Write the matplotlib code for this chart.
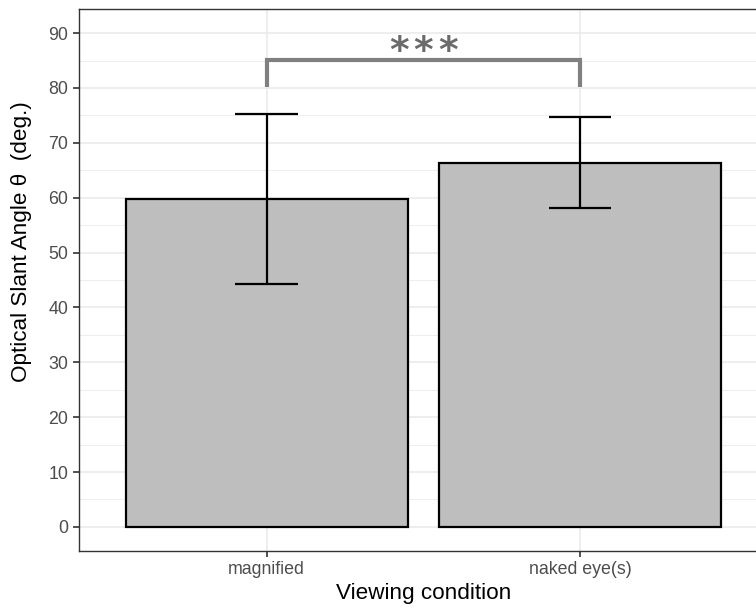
import matplotlib
matplotlib.use("Agg")
import matplotlib.pyplot as plt
import numpy as np

categories = ["magnified", "naked eye(s)"]
means = [59.8, 66.4]
err_low = [44.3, 58.1]
err_high = [75.2, 74.7]
sig_label = "*"
sig_count = 3
sig_y = 85.1
sig_drop = 80.2
yticks = [0, 10, 20, 30, 40, 50, 60, 70, 80, 90]

plt.rcParams["font.family"] = ["Liberation Sans", "DejaVu Sans"]

W, H = 756, 611
fig = plt.figure(figsize=(W / 100, H / 100), dpi=100)
left, right, top, bottom = 78.7, 768.0, 9.0, 551.0
ax = fig.add_axes([left / W, 1 - bottom / H, (right - left) / W, (bottom - top) / H])

x = np.arange(1, len(categories) + 1)
ax.set_xlim(0.4, 2.6)
ax.set_ylim(-4.4, 94.4)

# grid
for v in np.arange(5, 95, 10):
    ax.axhline(v, color="#ebebeb", lw=0.6, zorder=0)
for v in yticks:
    ax.axhline(v, color="#ebebeb", lw=1.2, zorder=0)
for xi in x:
    ax.axvline(xi, color="#ebebeb", lw=1.2, zorder=0)

ax.bar(x, means, width=0.9, color="#bebebe", edgecolor="black", linewidth=1.6, zorder=2)
ax.errorbar(x, means,
            yerr=[np.array(means) - np.array(err_low), np.array(err_high) - np.array(means)],
            fmt="none", ecolor="black", elinewidth=1.6, capsize=0, zorder=3)
for xi, lo, hi in zip(x, err_low, err_high):
    ax.plot([xi - 0.1, xi + 0.1], [lo, lo], color="black", lw=1.6, zorder=3, solid_capstyle="butt")
    ax.plot([xi - 0.1, xi + 0.1], [hi, hi], color="black", lw=1.6, zorder=3, solid_capstyle="butt")

ax.plot([x[0], x[0], x[1], x[1]], [sig_drop, sig_y, sig_y, sig_drop], color="#808080", lw=3,
        solid_joinstyle="miter", solid_capstyle="butt", zorder=4)
mid = (x[0] + x[1]) / 2
for k in range(sig_count):
    ax.text(mid + (k - 1) * 0.079, sig_y - 1.8, sig_label, ha="center", va="bottom", fontsize=27,
            color="#6b6b6b", fontweight="bold", family="DejaVu Sans", zorder=4)

ax.set_xticks(x)
ax.set_xticklabels(categories)
ax.set_yticks(yticks)
ax.tick_params(axis="both", colors="#333333", labelcolor="#4d4d4d", labelsize=12.8, length=4.5,
               width=1.2, pad=3)
for s in ax.spines.values():
    s.set_color("#333333")
    s.set_linewidth(1.0)
ax.set_xlabel("Viewing condition", fontsize=16.2, color="black", labelpad=3)
ax.set_ylabel("Optical Slant Angle \u03b8  (deg.)", fontsize=16.2, color="black")
ax.yaxis.set_label_coords(-0.068, 0.57)

fig.savefig("out.png", dpi=100)
